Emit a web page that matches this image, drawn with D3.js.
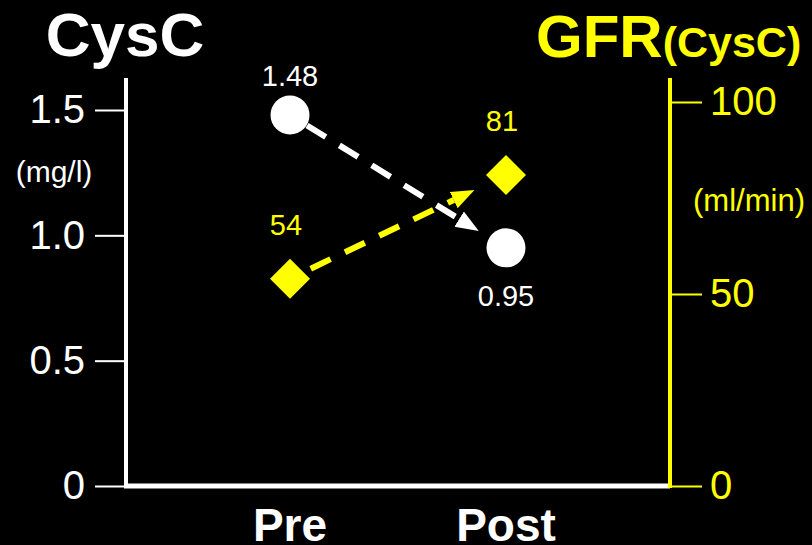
<!DOCTYPE html>
<html>
<head>
<meta charset="utf-8">
<script src="https://cdn.jsdelivr.net/npm/d3@7"></script>
<style>
  html, body { margin: 0; padding: 0; background: #000; }
  svg { display: block; font-family: "Liberation Sans", Arial, sans-serif; }
</style>
</head>
<body>
<svg id="chart"></svg>
<script>
const width = 812;
const height = 545;

// data
const phases = ["Pre", "Post"];
const cysC = [1.48, 0.95];          // mg/l, left axis
const gfr = [54, 81];               // ml/min, right axis
const cysTicks = [0, 0.5, 1.0, 1.5];
const cysTickLabels = ["0", "0.5", "1.0", "1.5"];
const gfrTicks = [0, 50, 100];

const white = "#ffffff";
const yellow = "#ffff00";

const svg = d3.select("#chart").attr("width", width).attr("height", height);
svg.append("rect").attr("width", width).attr("height", height).attr("fill", "#000");

const leftX = 126, rightX = 670, baseY = 486, topY = 78;

const x = d3.scalePoint().domain(phases).range([290, 506]);
const yL = d3.scaleLinear().domain([0, 1.5]).range([baseY, 110]);
const yR = d3.scaleLinear().domain([0, 100]).range([baseY, 102]);

// arrow markers
const defs = svg.append("defs");
function marker(id, color) {
	defs.append("marker")
	.attr("id", id)
	.attr("markerUnits", "userSpaceOnUse")
	.attr("viewBox", "0 -10 24 20")
	.attr("refX", 0)
	.attr("refY", 0)
	.attr("markerWidth", 24)
	.attr("markerHeight", 20)
	.attr("orient", "auto")
	.append("path")
	.attr("d", "M0,-9L23,0L0,9Z")
	.attr("fill", color);
}
marker("arrowW", white);
marker("arrowY", yellow);

// left axis
const axisL = d3.axisLeft(yL)
	.tickValues(cysTicks)
	.tickFormat((d, i) => cysTickLabels[i])
	.tickSize(31)
	.tickPadding(10);
const gL = svg.append("g").attr("transform", `translate(${leftX},0)`).call(axisL);
gL.select(".domain").remove();
gL.selectAll(".tick line").attr("stroke", white).attr("stroke-width", 2);
gL.selectAll(".tick text")
	.attr("fill", white)
	.style("font-size", "40px")
	.style("font-family", "'Liberation Sans', Arial, sans-serif");

// right axis
const axisR = d3.axisRight(yR)
	.tickValues(gfrTicks)
	.tickFormat(d3.format("d"))
	.tickSize(32)
	.tickPadding(8);
const gR = svg.append("g").attr("transform", `translate(${rightX},0)`).call(axisR);
gR.select(".domain").remove();
gR.selectAll(".tick line").attr("stroke", yellow).attr("stroke-width", 2);
gR.selectAll(".tick text")
	.attr("fill", yellow)
	.style("font-size", "40px")
	.style("font-family", "'Liberation Sans', Arial, sans-serif");

// frame lines
svg.append("line")
	.attr("x1", leftX).attr("x2", leftX).attr("y1", topY).attr("y2", baseY + 2)
	.attr("stroke", white).attr("stroke-width", 4);
svg.append("line")
	.attr("x1", leftX - 2).attr("x2", rightX).attr("y1", baseY).attr("y2", baseY)
	.attr("stroke", white).attr("stroke-width", 5);
svg.append("line")
	.attr("x1", rightX).attr("x2", rightX).attr("y1", topY).attr("y2", baseY + 2)
	.attr("stroke", yellow).attr("stroke-width", 4);

// titles
svg.append("text")
	.attr("x", 125).attr("y", 56)
	.attr("text-anchor", "middle")
	.attr("fill", white)
	.style("font-size", "62px").style("font-weight", "bold")
	.text("CysC");
const gfrTitle = svg.append("text")
	.attr("x", 536).attr("y", 57)
	.attr("fill", yellow)
	.style("font-weight", "bold");
gfrTitle.append("tspan").style("font-size", "60px").text("GFR");
gfrTitle.append("tspan").style("font-size", "43px").text("(CysC)");

// units
svg.append("text")
	.attr("x", 54).attr("y", 182)
	.attr("text-anchor", "middle")
	.attr("fill", white)
	.style("font-size", "30px")
	.text("(mg/l)");
svg.append("text")
	.attr("x", 749).attr("y", 211)
	.attr("text-anchor", "middle")
	.attr("fill", yellow)
	.style("font-size", "31px")
	.text("(ml/min)");

// category labels
svg.selectAll(".cat")
	.data(phases)
	.enter().append("text")
	.attr("class", "cat")
	.attr("x", d => x(d))
	.attr("y", 541)
	.attr("text-anchor", "middle")
	.attr("fill", white)
	.style("font-size", "46px").style("font-weight", "bold")
	.text(d => d);

// dashed arrow between two points, trimmed at both ends
function arrowLine(p1, p2, startGap, endGap, color, markerId) {
	const dx = p2[0] - p1[0], dy = p2[1] - p1[1];
	const len = Math.hypot(dx, dy);
	const ux = dx / len, uy = dy / len;
	const head = 23;
	svg.append("line")
		.attr("x1", p1[0] + ux * startGap)
		.attr("y1", p1[1] + uy * startGap)
		.attr("x2", p2[0] - ux * (endGap + head))
		.attr("y2", p2[1] - uy * (endGap + head))
		.attr("stroke", color)
		.attr("stroke-width", 6)
		.attr("stroke-dasharray", "22,16")
		.attr("marker-end", `url(#${markerId})`);
}

const cysPts = phases.map((p, i) => [x(p), yL(cysC[i])]);
const gfrPts = phases.map((p, i) => [x(p), yR(gfr[i])]);

arrowLine(cysPts[0], cysPts[1], 20, 32, white, "arrowW");
arrowLine(gfrPts[0], gfrPts[1], 23, 35, yellow, "arrowY");

// CysC circles
svg.selectAll(".cys")
	.data(cysC)
	.enter().append("circle")
	.attr("class", "cys")
	.attr("cx", (d, i) => x(phases[i]))
	.attr("cy", d => yL(d))
	.attr("r", 19.5)
	.attr("fill", white);

svg.selectAll(".cysLab")
	.data(cysC)
	.enter().append("text")
	.attr("class", "cysLab")
	.attr("x", (d, i) => x(phases[i]))
	.attr("y", (d, i) => i === 0 ? yL(d) - 29 : yL(d) + 58)
	.attr("text-anchor", "middle")
	.attr("fill", white)
	.style("font-size", "29px")
	.text(d => d3.format(".2f")(d));

// GFR diamonds
svg.selectAll(".gfr")
	.data(gfr)
	.enter().append("path")
	.attr("class", "gfr")
	.attr("d", d3.symbol(d3.symbolSquare, 800))
	.attr("transform", (d, i) => `translate(${x(phases[i])},${yR(d)}) rotate(45)`)
	.attr("fill", yellow);

svg.selectAll(".gfrLab")
	.data(gfr)
	.enter().append("text")
	.attr("class", "gfrLab")
	.attr("x", (d, i) => x(phases[i]) - 4)
	.attr("y", d => yR(d) - 44)
	.attr("text-anchor", "middle")
	.attr("fill", yellow)
	.style("font-size", "29px")
	.text(d => d);
</script>
</body>
</html>
